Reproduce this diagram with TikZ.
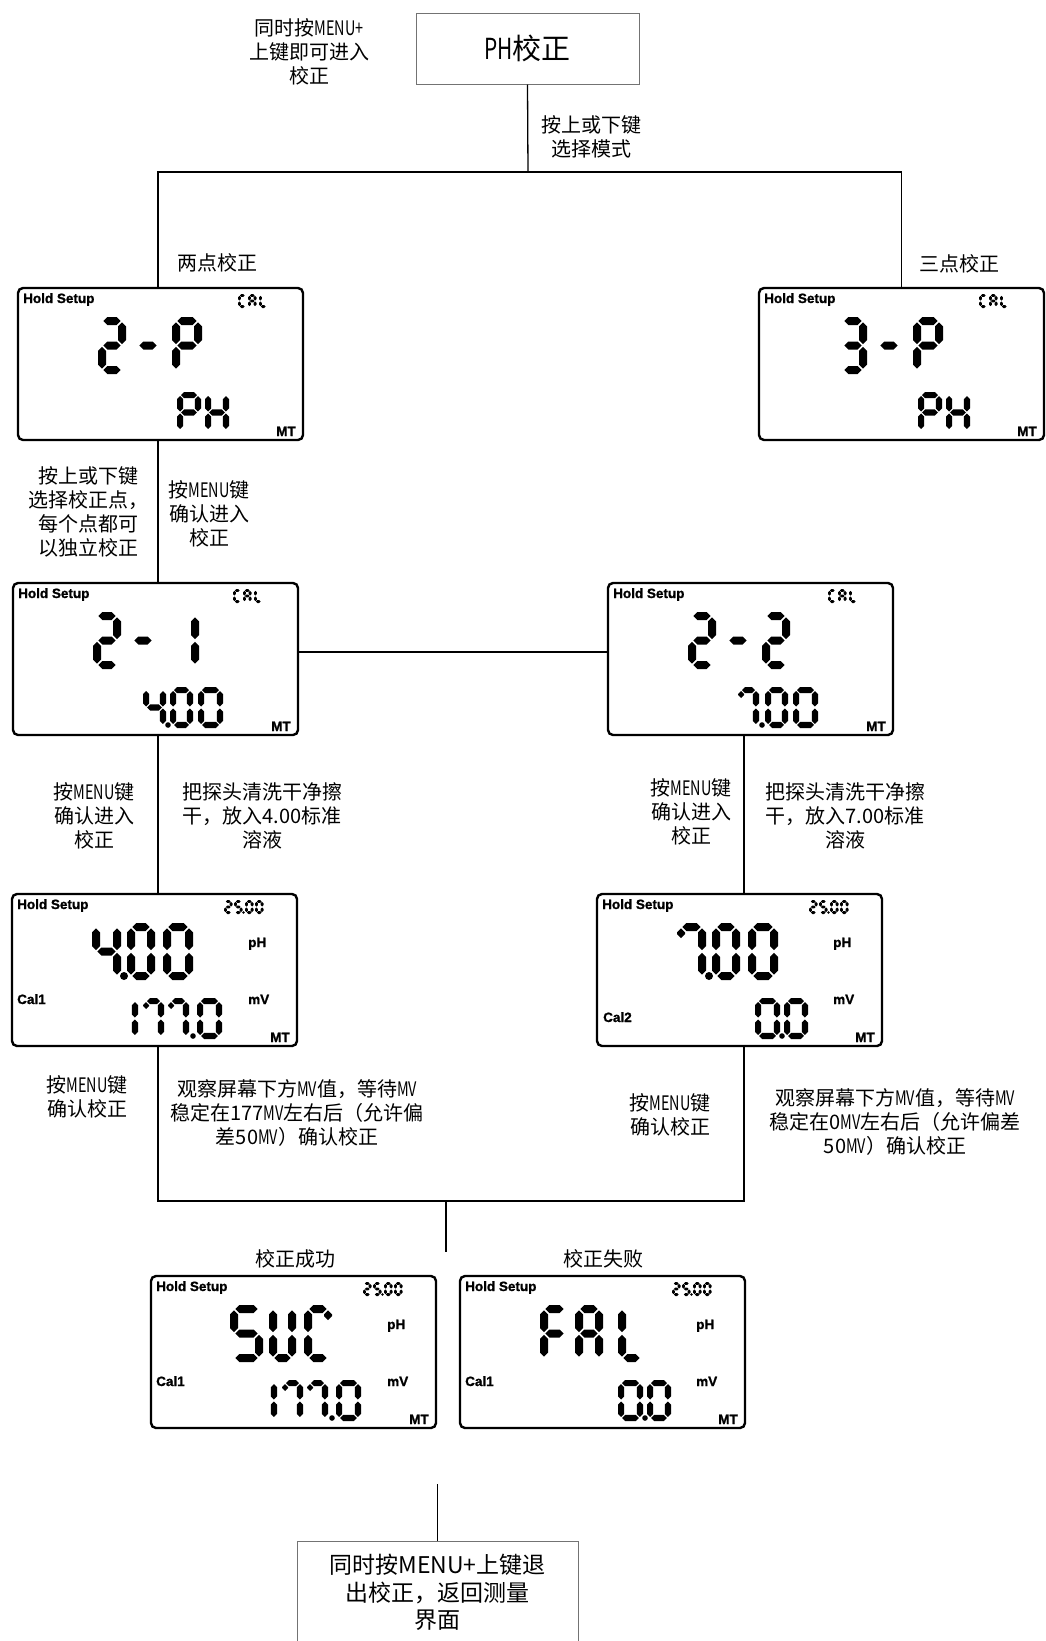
\documentclass[tikz,border=0pt]{standalone}
\usepackage{fontspec}
\setmainfont{Noto Sans CJK SC}
\newfontfamily\narrow{Noto Sans CJK SC}[FakeStretch=0.72]
\newfontfamily\lcdfont{Liberation Sans Bold}[FakeBold=1.2]

\tikzset{
  wire/.style={draw=black,line width=1.3pt},
  note/.style={font=\fontsize{20}{24}\selectfont,align=center,inner sep=0pt},
  titlebox/.style={draw=black!55,line width=1pt,minimum width=223pt,minimum height=71pt,
    font=\fontsize{29}{34}\selectfont,inner sep=0pt},
  exitbox/.style={draw=black!55,line width=1pt,minimum width=281pt,minimum height=102pt,
    font=\fontsize{23}{27.5}\selectfont,align=center,inner sep=0pt,anchor=north},
  lcd/.style={draw=black,line width=2.4pt,rounded corners=5pt,minimum width=285pt,
    minimum height=152pt,inner sep=0pt,outer sep=0pt,anchor=north west},
  lcdlbl/.style={font=\lcdfont\fontsize{13.5}{13.5}\selectfont,inner sep=0pt},
}

% seven segment glyphs
\newcommand\hseg[3]{\fill ({#1},{#3}) -- ({#1+\segT},{#3-\segT}) -- ({#2-\segT},{#3-\segT}) -- ({#2},{#3}) -- ({#2-\segT},{#3+\segT}) -- ({#1+\segT},{#3+\segT}) -- cycle;}
\newcommand\vseg[3]{\fill ({#1},{#2}) -- ({#1+\segT},{#2+\segT}) -- ({#1+\segT},{#3-\segT}) -- ({#1},{#3}) -- ({#1-\segT},{#3-\segT}) -- ({#1-\segT},{#2+\segT}) -- cycle;}
\newcommand\sga{\hseg{\segXa+\segG}{\segXb-\segG}{\segYa}}
\newcommand\sgb{\vseg{\segXb}{\segYa+\segG}{\segYm-\segG}}
\newcommand\sgc{\vseg{\segXb}{\segYm+\segG}{\segYb-\segG}}
\newcommand\sgd{\hseg{\segXa+\segG}{\segXb-\segG}{\segYb}}
\newcommand\sge{\vseg{\segXa}{\segYm+\segG}{\segYb-\segG}}
\newcommand\sgf{\vseg{\segXa}{\segYa+\segG}{\segYm-\segG}}
\newcommand\sgg{\hseg{\segXa+\segG}{\segXb-\segG}{\segYm}}
\newcommand\sgh{\vseg{\segXa}{\segYa+\segG}{\segYa+\segG+0.4*(\segYm-\segYa)}}
\newcommand\sgk{\vseg{\segXb}{\segYa+\segG}{\segYa+\segG+0.4*(\segYm-\segYa)}}
\newcommand\segdigit[6]{%
  \begin{scope}[shift={(#1,#2)}]
    \pgfmathsetmacro\segW{#3}\pgfmathsetmacro\segH{#4}%
    \pgfmathsetmacro\segT{#5/2}\pgfmathsetmacro\segG{#5*0.16}%
    \pgfmathsetmacro\segXa{\segT}\pgfmathsetmacro\segXb{\segW-\segT}%
    \pgfmathsetmacro\segYa{\segT}\pgfmathsetmacro\segYb{\segH-\segT}\pgfmathsetmacro\segYm{\segH/2}%
    \edef\seglist{#6}%
    \foreach \s in \seglist {\csname sg\s\endcsname}
  \end{scope}}
\def\syzero{a,b,c,d,e,f}
\def\syone{b,c}
\def\sytwo{a,b,g,e,d}
\def\sythree{a,b,g,c,d}
\def\syfour{f,g,b,c}
\def\syfive{a,f,g,c,d}
\def\syseven{a,b,c,h}
\def\sydash{g}
\def\syP{a,b,f,g,e}
\def\syH{b,c,e,f,g}
\def\syC{a,f,e,d,k}
\def\syCs{a,f,e,d}
\def\syA{a,b,c,e,f,g}
\def\syL{f,e,d}
\def\syS{a,f,g,c,d}
\def\syU{b,c,d,e,f}
\def\syF{a,f,g,e}
\newcommand\bigch[3]{\segdigit{#1}{29}{#2}{57}{8}{#3}}
\newcommand\midch[3]{\segdigit{#1}{104}{#2}{41}{6.2}{#3}}
\newcommand\tinych[2]{\segdigit{#1}{6}{8.5}{14}{2.9}{#2}}
\newcommand\segdot[3]{\fill (#1,#2) circle[radius=#3pt];}

% parts shared by the meter screens
\newcommand\lcdtop[1]{%
  \node[lcdlbl,anchor=base west] (#1-hold) at (5,15) {Hold Setup};
  \node[lcdlbl,anchor=base east] (#1-mt) at (278,148) {MT};}
\newcommand\lcdcal{\tinych{220}{\syCs}\tinych{230}{\syA}\tinych{241}{\syL}}
\newcommand\lcdtemp{\tinych{212}{\sytwo}\tinych{222}{\syfive}\tinych{233}{\syzero}\tinych{243}{\syzero}\segdot{231.5}{18.5}{1.4}}
\newcommand\lcdunits[1]{%
  \node[lcdlbl,anchor=base west] (#1-ph) at (236,53) {pH};
  \node[lcdlbl,anchor=base west] (#1-mv) at (236,110) {mV};}

\begin{document}
\begin{tikzpicture}[x=1pt,y=-1pt]
  \useasboundingbox (0,0) rectangle (1045,1641);

  \node[note] (intro) at (309,52) {同时按{\narrow MENU+}\\上键即可进入\\校正};
  \node[titlebox] (ph) at (527.5,48.5) {{\narrow PH}校正};
  \node[note] (pick) at (591,137) {按上或下键\\选择模式};
  \node[note] (lblTwo) at (217,263) {两点校正};
  \node[note] (lblThree) at (959,264) {三点校正};

  \node[lcd] (twoP) at (18,288) {};
  \begin{scope}[shift={(twoP.north west)}]
    \lcdtop{twoP}\lcdcal
    \bigch{80}{28}{\sytwo}\bigch{116}{28}{\sydash}\bigch{154}{30}{\syP}
    \midch{159}{24}{\syP}\midch{187}{24}{\syH}
  \end{scope}

  \node[lcd] (threeP) at (759,288) {};
  \begin{scope}[shift={(threeP.north west)}]
    \lcdtop{threeP}\lcdcal
    \bigch{80}{28}{\sythree}\bigch{116}{28}{\sydash}\bigch{154}{30}{\syP}
    \midch{159}{24}{\syP}\midch{187}{24}{\syH}
  \end{scope}

  \node[note] (hintA) at (88,512) {按上或下键\\选择校正点，\\每个点都可\\以独立校正};
  \node[note] (hintB) at (209,514) {按{\narrow MENU}键\\确认进入\\校正};

  \node[lcd] (twoA) at (13,583) {};
  \begin{scope}[shift={(twoA.north west)}]
    \lcdtop{twoA}\lcdcal
    \bigch{80}{28}{\sytwo}\bigch{116}{28}{\sydash}\bigch{156}{30}{\syone}
    \midch{130}{23}{\syfour}\midch{157}{23}{\syzero}\midch{185}{25}{\syzero}\segdot{155}{142}{2.8}
  \end{scope}

  \node[lcd] (twoB) at (608,583) {};
  \begin{scope}[shift={(twoB.north west)}]
    \lcdtop{twoB}\lcdcal
    \bigch{80}{28}{\sytwo}\bigch{116}{28}{\sydash}\bigch{154}{28}{\sytwo}
    \midch{130}{21}{\syseven}\midch{157}{23}{\syzero}\midch{185}{25}{\syzero}\segdot{154}{142}{2.8}
  \end{scope}

  \node[note] (hintC) at (94,816) {按{\narrow MENU}键\\确认进入\\校正};
  \node[note] (hintD) at (262,816) {把探头清洗干净擦\\干，放入4.00标准\\溶液};
  \node[note] (hintE) at (691,812) {按{\narrow MENU}键\\确认进入\\校正};
  \node[note] (hintF) at (845,816) {把探头清洗干净擦\\干，放入7.00标准\\溶液};

  \node[lcd] (calA) at (12,894) {};
  \begin{scope}[shift={(calA.north west)}]
    \lcdtop{calA}\lcdtemp\lcdunits{calA}
    \node[lcdlbl,anchor=base west] (calA-cal) at (5,110) {Cal1};
    \bigch{80}{29}{\syfour}\bigch{115}{28}{\syzero}\bigch{151}{30}{\syzero}\segdot{112}{82}{4}
    \midch{104}{22}{\syone}\midch{131}{21}{\syseven}\midch{156}{21}{\syseven}\midch{185}{25}{\syzero}\segdot{181}{142}{2.8}
  \end{scope}

  \node[lcd] (calB) at (597,894) {};
  \begin{scope}[shift={(calB.north west)}]
    \lcdtop{calB}\lcdtemp\lcdunits{calB}
    \node[lcdlbl,anchor=base west] (calB-cal) at (6,128) {Cal2};
    \bigch{80}{29}{\syseven}\bigch{115}{28}{\syzero}\bigch{151}{30}{\syzero}\segdot{112}{82}{4}
    \midch{158}{25}{\syzero}\midch{187}{24}{\syzero}\segdot{185}{142}{2.8}
  \end{scope}

  \node[note] (hintG) at (87,1097) {按{\narrow MENU}键\\确认校正};
  \node[note] (hintH) at (297,1113) {观察屏幕下方{\narrow MV}值，等待{\narrow MV}\\稳定在177{\narrow MV}左右后（允许偏\\差50{\narrow MV}）确认校正};
  \node[note] (hintI) at (670,1115) {按{\narrow MENU}键\\确认校正};
  \node[note] (hintJ) at (895,1122) {观察屏幕下方{\narrow MV}值，等待{\narrow MV}\\稳定在0{\narrow MV}左右后（允许偏差\\50{\narrow MV}）确认校正};

  \node[note] (lblOk) at (295,1259) {校正成功};
  \node[note] (lblFail) at (603,1259) {校正失败};

  \node[lcd] (suc) at (151,1276) {};
  \begin{scope}[shift={(suc.north west)}]
    \lcdtop{suc}\lcdtemp\lcdunits{suc}
    \node[lcdlbl,anchor=base west] (suc-cal) at (5,110) {Cal1};
    \bigch{79}{33}{\syS}\bigch{118}{27}{\syU}\bigch{153}{28}{\syC}
    \midch{104}{22}{\syone}\midch{131}{21}{\syseven}\midch{156}{21}{\syseven}\midch{185}{25}{\syzero}\segdot{181}{142}{2.8}
  \end{scope}

  \node[lcd] (fal) at (460,1276) {};
  \begin{scope}[shift={(fal.north west)}]
    \lcdtop{fal}\lcdtemp\lcdunits{fal}
    \node[lcdlbl,anchor=base west] (fal-cal) at (5,110) {Cal1};
    \bigch{80}{29}{\syF}\bigch{115}{28}{\syA}\bigch{158}{27}{\syL}
    \midch{158}{25}{\syzero}\midch{187}{24}{\syzero}\segdot{185}{142}{2.8}
  \end{scope}

  \node[exitbox] (exit) at (437.5,1541) {同时按MENU+上键退\\出校正，返回测量\\界面};

  % connectors
  \coordinate (colL) at (158,0);
  \coordinate (colR) at (744,0);
  \coordinate (rowM) at (0,652);
  \coordinate (bus1) at (528,172);
  \coordinate (bus2) at (446,1201);
  \coordinate (bus2end) at (446,1252);
  \coordinate (exitTop) at (437.5,1484);
  \draw[wire] (ph.south) -- (bus1);
  \draw[wire] (twoP.north -| colL) |- (bus1) -| (threeP.north);
  \draw[wire] (twoP.south -| colL) -- (twoA.north -| colL);
  \draw[wire] (twoA.east |- rowM) -- (twoB.west |- rowM);
  \draw[wire] (twoA.south -| colL) -- (calA.north -| colL);
  \draw[wire] (twoB.south -| colR) -- (calB.north -| colR);
  \draw[wire] (calA.south -| colL) |- (bus2) -| (calB.south -| colR);
  \draw[wire] (bus2) -- (bus2end);
  \draw[wire] (exitTop) -- (exit.north);
\end{tikzpicture}
\end{document}
